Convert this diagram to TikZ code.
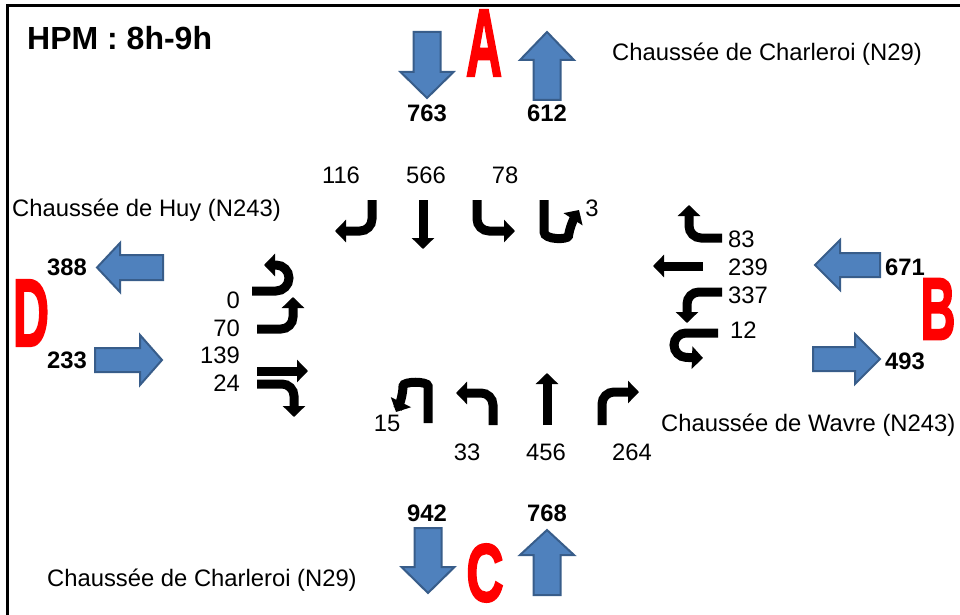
\documentclass[tikz,border=0pt]{standalone}
\usepackage{fontspec}
\setmainfont{Liberation Sans}
\newfontfamily\heavyfont[FakeBold=2.5]{Liberation Sans Bold}
\usepackage{graphicx}
\usetikzlibrary{arrows.meta}
\definecolor{blockfill}{HTML}{4F81BD}
\definecolor{blockline}{HTML}{385D8A}
\definecolor{letred}{HTML}{FF0000}
\tikzset{
  lab/.style={font=\fontsize{23.8}{28}\selectfont, inner sep=0pt, anchor=base west},
  num/.style={font=\fontsize{23.8}{28}\selectfont, inner sep=0pt},
  bnum/.style={font=\fontsize{23.8}{28}\selectfont\bfseries, inner sep=0pt},
  turn/.style={line width=9pt, -{Triangle[width=22pt,length=11pt]}, rounded corners=12pt},
  block/.style={fill=blockfill, draw=blockline, line width=2pt, line join=miter},
  bigletter/.style={text=letred, inner sep=0pt},
  frameline/.style={line width=3pt},
}
\begin{document}
\begin{tikzpicture}[x=1pt,y=-1pt]
\useasboundingbox (0,0) rectangle (960,615);
% frame
\draw[frameline] (960,6) -- (7,6) -- (7,615);
% title
\node[anchor=base west, inner sep=0pt, font=\fontsize{32}{36}\selectfont\bfseries] (title) at (27,50) {HPM : 8h-9h};
% big letters
\node[bigletter] (A) at (484,43) {\scalebox{0.52}[1]{\fontsize{96}{96}\heavyfont A}};
\node[bigletter] (B) at (938,309) {\scalebox{0.55}[1]{\fontsize{88}{88}\heavyfont B}};
\node[bigletter] (C) at (485,573) {\scalebox{0.63}[1]{\fontsize{82}{82}\heavyfont C}};
\node[bigletter] (D) at (31,313) {\scalebox{0.52}[1]{\fontsize{96}{96}\heavyfont D}};
% street labels
\node[lab] (rtop) at (612,61) {Chaussée de Charleroi (N29)};
\node[lab] (rhuy) at (12,216) {Chaussée de Huy (N243)};
\node[lab] (rwav) at (661,431) {Chaussée de Wavre (N243)};
\node[lab] (rbot) at (47,586) {Chaussée de Charleroi (N29)};
% blue block arrows
\draw[block] (413.5,32) -- (440.5,32) -- (440.5,72) -- (453.5,72) -- (427,98) -- (400.5,72) -- (413.5,72) -- cycle;
\draw[block] (533.5,100) -- (560.5,100) -- (560.5,60) -- (574,60) -- (547,32) -- (520,60) -- (533.5,60) -- cycle;
\draw[block] (414.5,528) -- (441.5,528) -- (441.5,567) -- (454.5,567) -- (428,593) -- (401.5,567) -- (414.5,567) -- cycle;
\draw[block] (533.5,595) -- (560.5,595) -- (560.5,555) -- (574,555) -- (547,530) -- (520,555) -- (533.5,555) -- cycle;
\draw[block] (163,255) -- (163,280) -- (120,280) -- (120,292) -- (97,267.5) -- (120,243) -- (120,255) -- cycle;
\draw[block] (95,348) -- (95,372) -- (140,372) -- (140,385) -- (162,360) -- (140,335) -- (140,348) -- cycle;
\draw[block] (880,253) -- (880,277) -- (840,277) -- (840,290) -- (815,265) -- (840,240) -- (840,253) -- cycle;
\draw[block] (813,347) -- (813,371) -- (855,371) -- (855,384) -- (880,359) -- (855,334) -- (855,347) -- cycle;
% bold totals
\node[bnum] (n763) at (427,113) {763};
\node[bnum] (n612) at (547,113) {612};
\node[bnum] (n942) at (427,513) {942};
\node[bnum] (n768) at (547,513) {768};
\node[bnum] (n388) at (67,267) {388};
\node[bnum] (n233) at (67,360) {233};
\node[bnum] (n671) at (905,267) {671};
\node[bnum] (n493) at (905,361) {493};
% movement counts
\node[num] (t116) at (341,175) {116};
\node[num] (t566) at (426,175) {566};
\node[num] (t78) at (505,175) {78};
\node[num] (t3) at (592,208) {3};
\node[num, anchor=east] (l0) at (240,300) {0};
\node[num, anchor=east] (l70) at (240,328) {70};
\node[num, anchor=east] (l139) at (240,355) {139};
\node[num, anchor=east] (l24) at (240,383) {24};
\node[num, anchor=west] (r83) at (728,239) {83};
\node[num, anchor=west] (r239) at (728,267) {239};
\node[num, anchor=west] (r337) at (728,295) {337};
\node[num, anchor=west] (r12) at (730,330) {12};
\node[num] (b15) at (387,423) {15};
\node[num] (b33) at (467,452) {33};
\node[num] (b456) at (546,452) {456};
\node[num] (b264) at (632,452) {264};
% turning arrows - north approach
\draw[turn] (372,200) -- (372,231) -- (335,231);
\draw[turn] (423,200) -- (423,249);
\draw[turn] (477,200) -- (477,231) -- (515,231);
\draw[turn] (544,200) -- (544,220) .. controls (544,240) and (568,240) .. (570,224) -- (579,210);
% west approach
\draw[turn, rounded corners=13pt] (252,291) -- (289,291) -- (289,265) -- (264,265);
\draw[turn] (257,329) -- (293,329) -- (293,297);
\draw[turn] (257,371) -- (308,371);
\draw[turn] (257,384) -- (294,384) -- (294,417);
% east approach
\draw[turn] (722,238) -- (689,238) -- (689,205);
\draw[turn] (703,266) -- (653,266);
\draw[turn] (722,292) -- (687,292) -- (687,323);
\draw[turn] (718,333) -- (674,333) -- (674,357) -- (703,358);
% south approach
\draw[turn] (428,423) -- (428,398) .. controls (428,381) and (403,381) .. (403,398) -- (396,412);
\draw[turn] (493,425) -- (493,393) -- (456,393);
\draw[turn] (547,425) -- (547,373);
\draw[turn] (602,425) -- (602,392) -- (639,392);
\end{tikzpicture}
\end{document}
